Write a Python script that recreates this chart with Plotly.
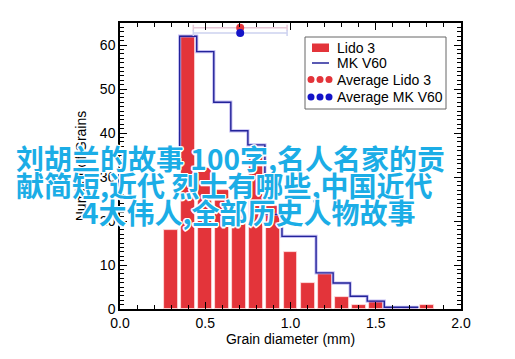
import plotly.graph_objects as go

# ---- data ----
lido_centers = [0.3, 0.4, 0.5, 0.6, 0.7, 0.8, 0.9, 1.0, 1.1, 1.2, 1.3, 1.4, 1.5, 1.6, 1.7, 1.8]
lido_counts = [18, 62, 32, 27, 22, 36, 23.5, 13, 5.9, 8, 2.8, 1, 1.8, 0, 0, 1]

mk_centers = [0.3, 0.4, 0.5, 0.6, 0.7, 0.8, 0.9, 1.0, 1.1, 1.2, 1.3, 1.4, 1.5, 1.6, 1.7]
mk_counts = [33.5, 62, 58.5, 47, 40.5, 37.3, 21.5, 16.5, 16.5, 8.2, 5.9, 2.9, 1.8, 0.4, 0.4]
bin_width = 0.1

avg_lido_x, avg_lido_y = 0.705, 63.9
avg_mk_x, avg_mk_y = 0.705, 62.7
avg_err = 0.275

x_ticks = [0.0, 0.5, 1.0, 1.5, 2.0]
x_tick_labels = ["0.0", "0.5", "1.0", "1.5", "2.0"]
y_ticks = [0, 10, 20, 30, 40, 50, 60]

overlay_lines = ["刘胡兰的故事 100字,名人名家的贡",
                 "献简短,近代 烈士有哪些,中国近代",
                 "4大伟人,全部历史人物故事"]

legend_labels = ["Lido 3", "MK V60", "Average Lido 3", "Average MK V60"]

RED = "#E3343A"
NAVY = "#23239A"
BLUE = "#1414C8"

fig = go.Figure()

fig.add_trace(go.Bar(x=lido_centers, y=lido_counts, width=0.082,
                     marker=dict(color=RED, line=dict(color="rgba(255,225,225,1)", width=0.8)),
                     showlegend=False))

half = bin_width / 2
step_x = [c - half for c in mk_centers] + [mk_centers[-1] + half]
step_y = mk_counts + [mk_counts[-1]]
fig.add_trace(go.Scatter(x=step_x, y=step_y, mode="lines", line=dict(shape="hv", color="rgba(160,150,235,0.6)", width=3.2),
                         showlegend=False, hoverinfo="skip"))
fig.add_trace(go.Scatter(x=step_x, y=step_y, mode="lines", line=dict(shape="hv", color=NAVY, width=1.4),
                         showlegend=False))

fig.add_trace(go.Scatter(x=[avg_lido_x], y=[avg_lido_y], mode="markers",
                         marker=dict(color=RED, size=8),
                         error_x=dict(type="data", array=[avg_err],
                                      color="rgba(230,200,215,1)", thickness=1.5, width=3),
                         showlegend=False))
fig.add_trace(go.Scatter(x=[avg_mk_x], y=[avg_mk_y], mode="markers",
                         marker=dict(color=BLUE, size=8),
                         error_x=dict(type="data", array=[avg_err],
                                      color="rgba(205,210,240,1)", thickness=1.5, width=3),
                         showlegend=False))

# ---- layout ----
# page body has an 8px default margin; compensate so plot area lands at these window pixels
OFF = 8
L, R, T, B = 120, 461, 23, 309
W, H = 515, 359

def px(xp):
    return (xp - L) / (R - L)

def py(yp):
    return (B - yp) / (B - T)

axis_font = dict(family="Liberation Sans, Arial, sans-serif", size=14, color="black")

fig.update_layout(
    width=W - OFF, height=H - OFF,
    margin=dict(l=L - OFF, r=W - R, t=T - OFF, b=H - B),
    plot_bgcolor="white", paper_bgcolor="white",
    bargap=0, barmode="overlay",
    font=axis_font,
    xaxis=dict(range=[0, 2], tickvals=x_ticks, ticktext=x_tick_labels,
               ticks="inside", ticklen=7, tickwidth=1.2, tickcolor="black",
               minor=dict(dtick=0.1, ticks="inside", ticklen=4, tickcolor="black", tickwidth=1),
               showline=True, linecolor="black", linewidth=1.5, mirror="allticks",
               showgrid=False, zeroline=False,
               title=dict(text="Grain diameter (mm)", font=dict(size=14), standoff=0)),
    yaxis=dict(range=[0, 65], tickvals=y_ticks,
               ticks="inside", ticklen=7, tickwidth=1.2, tickcolor="black",
               minor=dict(dtick=1, ticks="inside", ticklen=4, tickcolor="black", tickwidth=1),
               showline=True, linecolor="black", linewidth=1.5, mirror="allticks",
               showgrid=False, zeroline=False,
               title=dict(text="Number of Grains", font=dict(size=14), standoff=10)),
)

# ---- manual legend ----
shapes = []
shapes.append(dict(type="rect", xref="paper", yref="paper", x0=px(305), x1=px(446), y0=py(37), y1=py(109),
                   line=dict(color="#666666", width=1), fillcolor="white", layer="above"))
shapes.append(dict(type="rect", xref="paper", yref="paper", x0=px(312), x1=px(329), y0=py(43.5), y1=py(52),
                   line=dict(width=0), fillcolor=RED, layer="above"))
shapes.append(dict(type="line", xref="paper", yref="paper", x0=px(312), x1=px(329), y0=py(63), y1=py(63),
                   line=dict(color=NAVY, width=1.5), layer="above"))
for cx in (311, 320, 329):
    shapes.append(dict(type="circle", xref="paper", yref="paper", x0=px(cx - 3.5), x1=px(cx + 3.5),
                       y0=py(79.5 + 3.5), y1=py(79.5 - 3.5), line=dict(width=0), fillcolor=RED, layer="above"))
    shapes.append(dict(type="circle", xref="paper", yref="paper", x0=px(cx - 3.5), x1=px(cx + 3.5),
                       y0=py(97 + 3.5), y1=py(97 - 3.5), line=dict(width=0), fillcolor=BLUE, layer="above"))
fig.update_layout(shapes=shapes)

annotations = []
for lab, yc in zip(legend_labels, (48, 63, 80, 97)):
    annotations.append(dict(text=lab, xref="paper", yref="paper", x=px(335), y=py(yc), xanchor="left", yanchor="middle",
                            showarrow=False, font=dict(family="Liberation Sans, Arial, sans-serif", size=14, color="black")))

outline = "1.5px 0 0 white, -1.5px 0 0 white, 0 1.5px 0 white, 0 -1.5px 0 white, 1px 1px 0 white, -1px -1px 0 white, 1px -1px 0 white, -1px 1px 0 white"
for line_text, (xl, yc) in zip(overlay_lines, ((14, 158), (14, 185), (80, 212))):
    annotations.append(dict(text=line_text, xref="paper", yref="paper", x=px(xl), y=py(yc), xanchor="left", yanchor="middle",
                            showarrow=False,
                            font=dict(family="Noto Sans CJK SC", size=28, color="#1BADE6", weight="bold", shadow=outline)))
fig.update_layout(annotations=annotations)

fig.write_html("out.html")
